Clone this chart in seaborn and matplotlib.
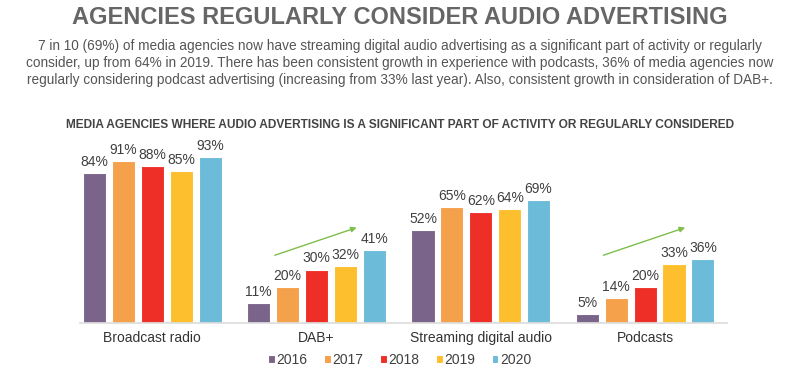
import pandas as pd
import matplotlib.pyplot as plt
import seaborn as sns

# Chart data
categories = ['Broadcast radio', 'DAB+', 'Streaming digital audio', 'Podcasts']
years = ['2016', '2017', '2018', '2019', '2020']
share_2016 = [84, 11, 52, 5]
share_2017 = [91, 20, 65, 14]
share_2018 = [88, 30, 62, 20]
share_2019 = [85, 32, 64, 33]
share_2020 = [93, 41, 69, 36]
colors = ['#7B6489', '#F5A04A', '#EE2F27', '#FDBF2D', '#6BBBD9']
trend_categories = ['DAB+', 'Podcasts']

values = [share_2016, share_2017, share_2018, share_2019, share_2020]
df = pd.DataFrame([
    {'category': c, 'year': y, 'share': v}
    for y, vals in zip(years, values)
    for c, v in zip(categories, vals)
])

sns.set_theme(style='white')
plt.rcParams['font.family'] = ['Liberation Sans', 'DejaVu Sans']

fig = plt.figure(figsize=(8, 3.7), dpi=100)
ax = fig.add_axes([0.1, 0.127, 0.809, 0.482])

sns.barplot(data=df, x='category', y='share', hue='year', palette=colors,
            width=0.88, gap=0.2, edgecolor='white', linewidth=0.8,
            saturation=1, ax=ax)

for cont in ax.containers:
    ax.bar_label(cont, fmt='%d%%', padding=3, fontsize=10, color='#404040')

ax.set_ylim(0, 100)
ax.set_xlim(-0.44, 3.5)
ax.set_xlabel('')
ax.set_ylabel('')
ax.set_yticks([])
ax.tick_params(axis='x', length=0, labelsize=10, labelcolor='#333333', pad=6)
sns.despine(ax=ax, left=True, top=True, right=True)
ax.spines['bottom'].set_color('#DDDDDD')

# green trend arrows
for cat in trend_categories:
    i = categories.index(cat)
    ax.annotate('', xy=(i + 0.26, 54), xytext=(i - 0.27, 37.5),
                arrowprops=dict(arrowstyle='-|>', color='#7DBF4A', lw=1,
                                mutation_scale=8))

ax.legend(loc='center', bbox_to_anchor=(0.5, 0.027), bbox_transform=fig.transFigure,
          ncol=5, frameon=False, fontsize=10, handlelength=0.45, handleheight=0.45,
          handletextpad=0.15, columnspacing=1.2, labelcolor='#404040')

fig.text(0.5, 0.952, 'AGENCIES REGULARLY CONSIDER AUDIO ADVERTISING',
         ha='center', va='center', fontsize=17, fontweight='bold', color='#666666')
fig.text(0.5, 0.83,
         '7 in 10 (69%) of media agencies now have streaming digital audio advertising as a significant part of activity or regularly\n'
         'consider, up from 64% in 2019. There has been consistent growth in experience with podcasts, 36% of media agencies now\n'
         'regularly considering podcast advertising (increasing from 33% last year). Also, consistent growth in consideration of DAB+.',
         ha='center', va='center', fontsize=9.8, color='#555555', linespacing=1.25)
fig.text(0.5, 0.662, 'MEDIA AGENCIES WHERE AUDIO ADVERTISING IS A SIGNIFICANT PART OF ACTIVITY OR REGULARLY CONSIDERED',
         ha='center', va='center', fontsize=8.6, fontweight='bold', color='#444444')

fig.savefig('out.png', dpi=100, facecolor='white')
